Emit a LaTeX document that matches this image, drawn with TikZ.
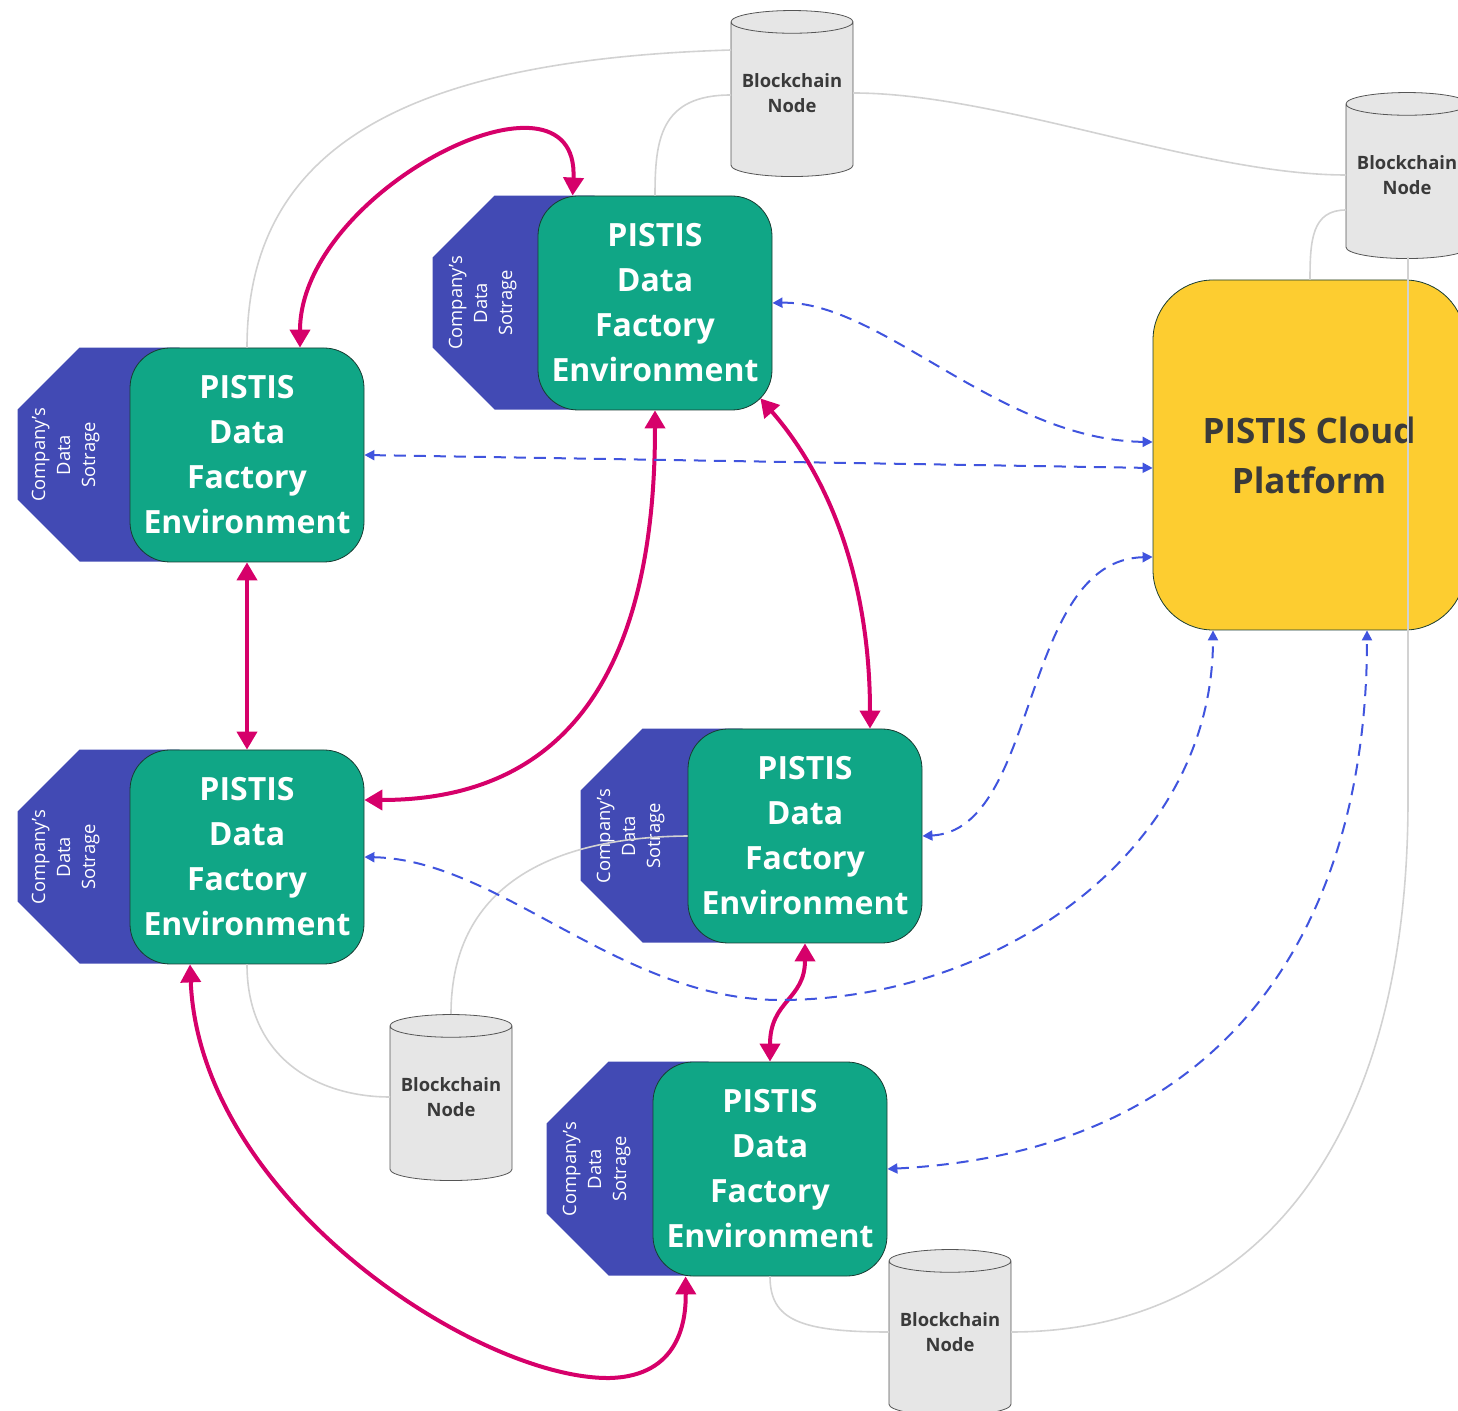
\documentclass[tikz,border=0pt]{standalone}
\usepackage{fontspec}
\setmainfont{Open Sans}
\usetikzlibrary{shapes.geometric,arrows.meta,calc,backgrounds}

\definecolor{factorygreen}{RGB}{16,166,134}
\definecolor{storeblue}{RGB}{66,74,180}
\definecolor{linkred}{RGB}{214,0,106}
\definecolor{syncblue}{RGB}{64,84,222}
\definecolor{cloudyellow}{RGB}{253,205,48}
\definecolor{chaingray}{RGB}{210,210,210}
\definecolor{textgray}{RGB}{58,58,58}
\definecolor{edgegray}{RGB}{85,85,85}
\definecolor{edgegreen}{RGB}{25,60,50}

\begin{document}
\begin{tikzpicture}[x=0.5pt,y=-0.5pt,
  factory/.style={draw=edgegreen, fill=factorygreen, rounded corners=20pt,
    minimum width=117pt, minimum height=107pt, align=center, text=white,
    font=\fontsize{16}{22.5}\selectfont\bfseries},
  storetext/.style={rotate=90, align=center, text=white,
    font=\fontsize{9.2}{12.5}\selectfont},
  chain/.style={cylinder, shape border rotate=90, aspect=0.2, draw=edgegray,
    fill={rgb,255:red,230;green,230;blue,230}, minimum width=61pt,
    minimum height=83pt, text depth=9pt, align=center, text=textgray,
    font=\fontsize{9.2}{12.5}\selectfont\bfseries},
  cloudbox/.style={draw=edgegreen, fill=cloudyellow, rounded corners=30pt,
    minimum width=156pt, minimum height=175pt, align=center, text=textgray,
    font=\fontsize{17.5}{25}\selectfont\bfseries},
  link/.style={linkred, line width=2pt,
    {Triangle[length=9pt,width=10pt]}-{Triangle[length=9pt,width=10pt]}},
  sync/.style={syncblue, line width=1pt, dash pattern=on 6pt off 4pt,
    {Triangle[length=5pt,width=5pt]}-{Triangle[length=5pt,width=5pt]}},
  chainline/.style={chaingray, line width=0.8pt}]

\useasboundingbox (0,0) rectangle (1458,1411);

% factories
\node[factory] (f1) at (247,455) {PISTIS\\Data\\Factory\\Environment};
\node[factory] (f2) at (655,303) {PISTIS\\Data\\Factory\\Environment};
\node[factory] (f3) at (247,857) {PISTIS\\Data\\Factory\\Environment};
\node[factory] (f4) at (805,836) {PISTIS\\Data\\Factory\\Environment};
\node[factory] (f5) at (770,1169) {PISTIS\\Data\\Factory\\Environment};

% company storage behind each factory
\begin{scope}[on background layer]
\foreach \f/\d in {f1/112,f2/105,f3/112,f4/107,f5/106}
  \fill[storeblue] (\f.north west) ++({62-\d},0) -- ++(-62,62) -- ++(0,90)
    -- ++(62,62) -- ++(100,0) -- ++(0,-214) -- cycle;
\end{scope}
\node[storetext] (s1) at ($(f1.west)+(-64,0)$) {Company's\\Data\\Sotrage};
\node[storetext] (s2) at ($(f2.west)+(-55,0)$) {Company's\\Data\\Sotrage};
\node[storetext] (s3) at ($(f3.west)+(-64,0)$) {Company's\\Data\\Sotrage};
\node[storetext] (s4) at ($(f4.west)+(-57,0)$) {Company's\\Data\\Sotrage};
\node[storetext] (s5) at ($(f5.west)+(-56,0)$) {Company's\\Data\\Sotrage};

\node[cloudbox] (cloud) at (1309,455) {PISTIS Cloud\\Platform};

% blockchain nodes
\node[chain] (bc1) at (792,102) {Blockchain\\Node};
\node[chain] (bc2) at (1407,184) {Blockchain\\Node};
\node[chain] (bc3) at (451,1106) {Blockchain\\Node};
\node[chain] (bc4) at (950,1341) {Blockchain\\Node};

% blockchain links
\draw[chainline] ($(bc1.center)+(-61,-52)$) .. controls (400,60) and (247,150) .. (f1.north);
\draw[chainline] ($(bc1.center)+(-61,-7)$) .. controls (660,95) and (655,140) .. (f2.north);
\draw[chainline] ($(bc1.center)+(61,-9)$) .. controls (1000,93) and (1200,175) .. ($(bc2.center)+(-61,-9)$);
\draw[chainline] ($(bc2.center)+(-61,26)$) .. controls (1312,210) and (1310,240) .. ($(cloud.north)+(1,0)$);
\draw[chainline] ($(bc2.center)+(1,73)$) -- (1408,800) .. controls (1408,1150) and (1250,1332) .. ($(bc4.center)+(61,-9)$);
\draw[chainline] (f3.south) .. controls (247,1060) and (320,1097) .. ($(bc3.center)+(-61,-9)$);
\draw[chainline] ($(bc3.center)+(0,-92)$) .. controls (451,880) and (560,837) .. (f4.west);
\draw[chainline] (f5.south) .. controls (770,1320) and (800,1332) .. ($(bc4.center)+(-61,-9)$);

% factory to factory
\draw[link] ($(f1.north)+(53,0)$) .. controls (300,190) and (580,50) .. ($(f2.north west)+(35,0)$);
\draw[link] (f1.south) -- (f3.north);
\draw[link] (f2.south) .. controls (655,680) and (560,800) .. ($(f3.east)+(0,-57)$);
\draw[link] ($(f2.south east)+(-12,-12)$) .. controls (840,490) and (870,600) .. ($(f4.north)+(65,0)$);
\draw[link] (f4.south) .. controls (805,1000) and (770,1000) .. (f5.north);
\draw[link] ($(f3.south)+(-57,0)$) .. controls (200,1200) and (480,1380) .. (610,1378)
  .. controls (680,1376) and (686,1320) .. ($(f5.south west)+(33,0)$);

% cloud to factories
\draw[sync] (f2.east) .. controls (880,300) and (1000,440) .. ($(cloud.west)+(0,-13)$);
\draw[sync] (f1.east) -- ($(cloud.west)+(0,13)$);
\draw[sync] (f4.east) .. controls (1040,830) and (1020,560) .. ($(cloud.west)+(0,102)$);
\draw[sync] (f3.east) .. controls (500,860) and (620,1000) .. (780,1000)
  .. controls (1000,1000) and (1213,850) .. ($(cloud.south)+(-96,0)$);
\draw[sync] (f5.east) .. controls (1250,1150) and (1367,900) .. ($(cloud.south)+(58,0)$);

\end{tikzpicture}
\end{document}
